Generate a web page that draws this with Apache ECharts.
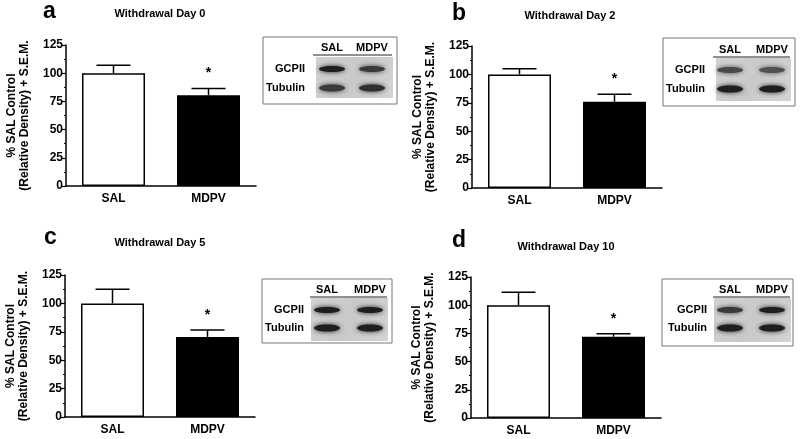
<!DOCTYPE html>
<html>
<head>
<meta charset="UTF-8">
<title>GCPII withdrawal</title>
<script src="https://cdn.jsdelivr.net/npm/echarts@6/dist/echarts.min.js"></script>
<style>
  html, body { margin: 0; padding: 0; background: #fff; }
  #main { width: 800px; height: 439px; }
</style>
</head>
<body>
<div id="main"></div>
<script>
// data
var categories = ['SAL', 'MDPV'];
var letters = ['a', 'b', 'c', 'd'];
var titles = ['Withdrawal Day 0', 'Withdrawal Day 2', 'Withdrawal Day 5', 'Withdrawal Day 10'];
var meanA = [100, 80.5];
var meanB = [100, 76];
var meanC = [100, 70.5];
var meanD = [100, 72];
var semA = [7, 6];
var semB = [5, 6.5];
var semC = [12.5, 6];
var semD = [11.5, 2.7];
var sig = ['', '*'];

var means = [meanA, meanB, meanC, meanD];
var sems = [semA, semB, semC, semD];

var FONT = 'Liberation Sans, Arial, sans-serif';

// panel layout (pixels)
var grids = [
    {left: 66, top: 45, width: 190, height: 141},
    {left: 472, top: 46, width: 190, height: 142},
    {left: 65, top: 275, width: 190, height: 142},
    {left: 471, top: 277, width: 190, height: 141}
];
var letterPos = [[43, 0], [452, 2], [44, 226], [452, 229]];
var titlePos = [[160, 8], [570, 10], [160, 237], [566, 241]];

var myChart = echarts.init(document.getElementById('main'));

var option = {
    animation: false,
    backgroundColor: '#fff',
    title: [],
    grid: [],
    xAxis: [],
    yAxis: [],
    series: [],
    graphic: []
};

for (var p = 0; p < 4; p++) {
    option.title.push({
        text: letters[p], left: letterPos[p][0], top: letterPos[p][1], padding: 0,
        textStyle: {fontFamily: FONT, fontSize: 23, fontWeight: 'bold', color: '#000'}
    });
    option.title.push({
        text: titles[p], left: titlePos[p][0], top: titlePos[p][1], textAlign: 'center', padding: 0,
        textStyle: {fontFamily: FONT, fontSize: 11, fontWeight: 'bold', color: '#000'}
    });
    option.grid.push(grids[p]);
    option.xAxis.push({
        type: 'category', gridIndex: p, data: categories,
        axisLine: {lineStyle: {color: '#000', width: 1.5}},
        axisTick: {alignWithLabel: true, length: 3, lineStyle: {color: '#000', width: 1.2}},
        axisLabel: {fontFamily: FONT, fontSize: 12, fontWeight: 'bold', color: '#000', margin: 7}
    });
    option.yAxis.push({
        type: 'value', gridIndex: p, min: 0, max: 125, interval: 25,
        name: '% SAL Control\n(Relative Density) + S.E.M.',
        nameLocation: 'middle', nameRotate: 90, nameGap: 35,
        nameTextStyle: {fontFamily: FONT, fontSize: 12, fontWeight: 'bold', color: '#000', lineHeight: 13},
        axisLine: {show: true, lineStyle: {color: '#000', width: 1.5}},
        axisTick: {show: true, length: 4, lineStyle: {color: '#000', width: 1.2}},
        minorTick: {show: true, splitNumber: 2, length: 2, lineStyle: {color: '#000', width: 1}},
        splitLine: {show: false},
        axisLabel: {fontFamily: FONT, fontSize: 12, fontWeight: 'bold', color: '#000', margin: 3}
    });
    option.series.push({
        type: 'bar', xAxisIndex: p, yAxisIndex: p, barWidth: 63,
        data: means[p].map(function (v, i) {
            return {
                value: v,
                itemStyle: i === 0
                    ? {color: '#fff', borderColor: '#000', borderWidth: 1.5}
                    : {color: '#000', borderColor: '#000', borderWidth: 1.5}
            };
        })
    });
    option.series.push({
        type: 'custom', xAxisIndex: p, yAxisIndex: p, z: 5,
        data: means[p].map(function (v, i) { return [i, v, v + sems[p][i]]; }),
        renderItem: function (params, api) {
            var i = api.value(0);
            var base = api.coord([i, api.value(1)]);
            var top = api.coord([i, api.value(2)]);
            var children = [
                {type: 'line', shape: {x1: base[0], y1: base[1], x2: top[0], y2: top[1]},
                    style: {stroke: '#000', lineWidth: 1.5}},
                {type: 'line', shape: {x1: top[0] - 17, y1: top[1], x2: top[0] + 17, y2: top[1]},
                    style: {stroke: '#000', lineWidth: 1.5}}
            ];
            if (sig[i]) {
                children.push({type: 'text', x: top[0], y: top[1] - 15,
                    style: {text: sig[i], fill: '#000', font: 'bold 14px ' + FONT,
                        align: 'center', verticalAlign: 'middle'}});
            }
            return {type: 'group', children: children};
        }
    });
}

// western blot insets (picture content, drawn as decoration)
var insets = [
    {box: [263, 37, 134, 67], head: 48, sal: 332, mdpv: 372, line: [313, 392, 55], gray: [316, 57, 77, 41],
        lab: 305, g: 69, t: 88, bands: [[1.0, 0.75], [0.75, 0.85]]},
    {box: [663, 38, 132, 68], head: 50, sal: 730, mdpv: 772, line: [713, 790, 57], gray: [716, 58, 75, 43],
        lab: 705, g: 70, t: 89, bands: [[0.6, 0.55], [1.0, 1.0]]},
    {box: [262, 279, 130, 64], head: 290, sal: 327, mdpv: 370, line: [310, 387, 297], gray: [311, 298, 77, 43],
        lab: 304, g: 310, t: 328, bands: [[1.0, 1.0], [1.0, 1.0]]},
    {box: [662, 279, 131, 67], head: 290, sal: 730, mdpv: 772, line: [713, 790, 297], gray: [714, 298, 77, 44],
        lab: 707, g: 310, t: 328, bands: [[0.75, 1.0], [1.0, 1.0]]}
];

insets.forEach(function (b) {
    var g = option.graphic;
    g.push({type: 'rect', shape: {x: b.box[0], y: b.box[1], width: b.box[2], height: b.box[3]},
        style: {fill: '#fff', stroke: '#777', lineWidth: 1}});
    g.push({type: 'rect', shape: {x: b.gray[0], y: b.gray[1], width: b.gray[2], height: b.gray[3]},
        style: {fill: new echarts.graphic.LinearGradient(0, 0, 1, 1, [
            {offset: 0, color: '#d2d2d2'}, {offset: 0.5, color: '#c9c9c9'}, {offset: 1, color: '#d4d4d4'}])}});
    g.push({type: 'line', shape: {x1: b.line[0], y1: b.line[2], x2: b.line[1], y2: b.line[2]},
        style: {stroke: '#222', lineWidth: 1.2}});
    g.push({type: 'text', x: b.sal, y: b.head, style: {text: 'SAL', font: 'bold 11px ' + FONT,
        fill: '#000', align: 'center', verticalAlign: 'middle'}});
    g.push({type: 'text', x: b.mdpv, y: b.head, style: {text: 'MDPV', font: 'bold 11px ' + FONT,
        fill: '#000', align: 'center', verticalAlign: 'middle'}});
    g.push({type: 'text', x: b.lab, y: b.g, style: {text: 'GCPII', font: 'bold 11px ' + FONT,
        fill: '#000', align: 'right', verticalAlign: 'middle'}});
    g.push({type: 'text', x: b.lab, y: b.t, style: {text: 'Tubulin', font: 'bold 11px ' + FONT,
        fill: '#000', align: 'right', verticalAlign: 'middle'}});
    [b.g, b.t].forEach(function (yy, row) {
        [b.sal, b.mdpv].forEach(function (xx, col) {
            var k = b.bands[row][col];
            var shade = Math.round(140 - 110 * k);
            var c = 'rgb(' + shade + ',' + shade + ',' + shade + ')';
            var h = row === 0 ? 4 : 5;
            g.push({type: 'ellipse', shape: {cx: xx, cy: yy, rx: 13, ry: h / 2 + 1},
                style: {fill: c, shadowBlur: 5, shadowColor: c}});
        });
    });
});

myChart.setOption(option);
</script>
</body>
</html>
